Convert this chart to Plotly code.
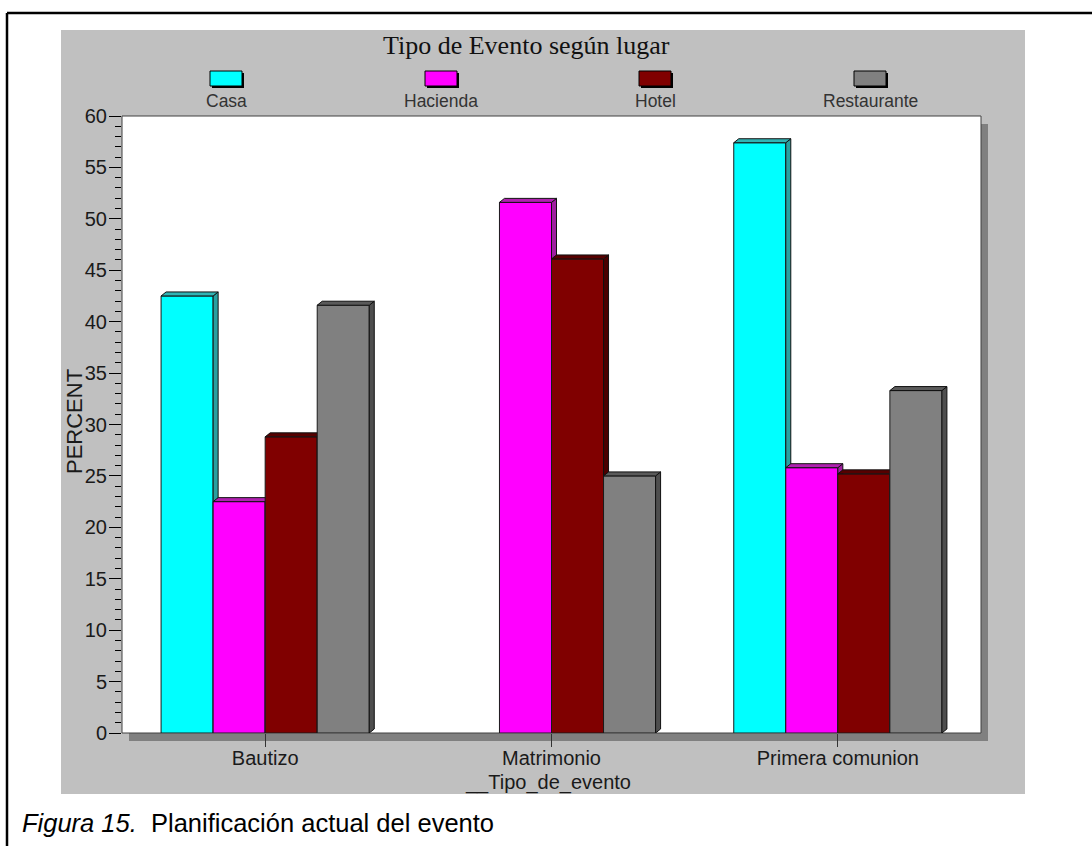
import plotly.graph_objects as go

# ---------------- data ----------------
categories = ["Bautizo", "Matrimonio", "Primera comunion"]
series_names = ["Casa", "Hacienda", "Hotel", "Restaurante"]
casa = [42.5, 0.0, 57.4]
hacienda = [22.5, 51.6, 25.8]
hotel = [28.8, 46.1, 25.2]
restaurante = [41.6, 25.0, 33.3]
y_ticks = [0, 5, 10, 15, 20, 25, 30, 35, 40, 45, 50, 55, 60]

series_values = [casa, hacienda, hotel, restaurante]
front_colors = ["#00FFFF", "#FF00FF", "#800000", "#808080"]
top_colors = ["#30B4B4", "#B020B0", "#560000", "#5A5A5A"]
side_colors = ["#28A0A0", "#A01EA0", "#4A0000", "#4E4E4E"]

# ---------------- geometry helpers ----------------
FW, FH = 1092, 846
PL, PR, PT, PB = 122, 981, 116, 733  # plot area in pixels
PW, PH = PR - PL, PB - PT


def fx(p):
    return (p - PL) / PW


def fy(p):
    return (PB - p) / PH


bargap = 0.273
nser = len(series_names)
w = (1 - bargap) / nser
x_range = [-0.5, 2.5]
y_range = [0, 60]
dx = 5 / (PW / (x_range[1] - x_range[0]))   # 3D depth in data units (x)
dy = 4 / (PH / (y_range[1] - y_range[0]))   # 3D depth in data units (y)

fig = go.Figure()
xs = list(range(len(categories)))

for i, (name, vals) in enumerate(zip(series_names, series_values)):
    off = -0.5 + bargap / 2 + i * w
    fig.add_trace(go.Bar(
        x=xs, y=vals, name=name, width=w, offset=off,
        marker=dict(color=front_colors[i],
                    line=dict(color="#1a1a1a", width=[1 if v > 0 else 0 for v in vals])),
        zorder=3 * i, showlegend=False,
    ))
    tx, ty, sx, sy = [], [], [], []
    for j, v in enumerate(vals):
        if v <= 0:
            continue
        x0 = j + off
        x1 = x0 + w
        tx += [x0, x0 + dx, x1 + dx, x1, x0, None]
        ty += [v, v + dy, v + dy, v, v, None]
        sx += [x1, x1 + dx, x1 + dx, x1, x1, None]
        sy += [v, v + dy, dy, 0, v, None]
    fig.add_trace(go.Scatter(
        x=sx, y=sy, mode="lines", fill="toself", fillcolor=side_colors[i],
        line=dict(color="#111111", width=1), zorder=3 * i + 1,
        showlegend=False, hoverinfo="skip",
    ))
    fig.add_trace(go.Scatter(
        x=tx, y=ty, mode="lines", fill="toself", fillcolor=top_colors[i],
        line=dict(color="#111111", width=1), zorder=3 * i + 2,
        showlegend=False, hoverinfo="skip",
    ))

shapes = []
# outer frame
shapes.append(dict(type="line", xref="paper", yref="paper",
                   x0=fx(7), x1=fx(1100), y0=fy(13), y1=fy(13),
                   line=dict(color="black", width=2.5)))
shapes.append(dict(type="line", xref="paper", yref="paper",
                   x0=fx(7), x1=fx(7), y0=fy(13), y1=fy(860),
                   line=dict(color="black", width=2.5)))
# gray panel
shapes.append(dict(type="rect", xref="paper", yref="paper", layer="below",
                   x0=fx(61), x1=fx(1025), y0=fy(30), y1=fy(794),
                   fillcolor="#C0C0C0", line=dict(width=0)))
# plot shadow
shapes.append(dict(type="rect", xref="paper", yref="paper", layer="below",
                   x0=fx(PL + 7), x1=fx(PR + 7), y0=fy(PT + 8), y1=fy(PB + 8),
                   fillcolor="#808080", line=dict(width=0)))
# white plot area
shapes.append(dict(type="rect", xref="paper", yref="paper", layer="below",
                   x0=0, x1=1, y0=0, y1=1,
                   fillcolor="white", line=dict(color="#404040", width=1)))

annotations = []
# legend (box above label)
leg_centers = [226, 441, 655, 870]
for name, col, cx in zip(series_names, front_colors, leg_centers):
    shapes.append(dict(type="rect", xref="paper", yref="paper",
                       x0=fx(cx - 14), x1=fx(cx + 18), y0=fy(73), y1=fy(88),
                       fillcolor="black", line=dict(width=0)))
    shapes.append(dict(type="rect", xref="paper", yref="paper",
                       x0=fx(cx - 16), x1=fx(cx + 16), y0=fy(71), y1=fy(86),
                       fillcolor=col, line=dict(color="black", width=1)))
    annotations.append(dict(text=name, xref="paper", yref="paper",
                            x=fx(cx), y=fy(101), showarrow=False,
                            xanchor="center", yanchor="middle",
                            font=dict(family="Liberation Sans, Arial", size=17.5, color="#333333")))

# title
annotations.append(dict(text="Tipo de Evento según lugar", xref="paper", yref="paper",
                        x=fx(526), y=fy(45), showarrow=False,
                        xanchor="center", yanchor="middle",
                        font=dict(family="Liberation Serif, Times New Roman", size=26, color="#111111")))
# y axis title
annotations.append(dict(text="PERCENT", xref="paper", yref="paper",
                        x=fx(74), y=fy(422), showarrow=False, textangle=-90,
                        xanchor="center", yanchor="middle",
                        font=dict(family="Liberation Sans, Arial", size=22, color="#1a1a1a")))
# x axis title
annotations.append(dict(text="__Tipo_de_evento", xref="paper", yref="paper",
                        x=fx(548), y=fy(782), showarrow=False,
                        xanchor="center", yanchor="middle",
                        font=dict(family="Liberation Sans, Arial", size=20, color="#1a1a1a")))
# caption
annotations.append(dict(text="<i>Figura 15.</i>  Planificación actual del evento",
                        xref="paper", yref="paper",
                        x=fx(20), y=fy(823), showarrow=False,
                        xanchor="left", yanchor="middle",
                        font=dict(family="Liberation Sans, Arial", size=25.5, color="black")))

fig.update_layout(
    width=FW, height=FH,
    margin=dict(l=PL, r=FW - PR, t=PT, b=FH - PB, pad=0),
    paper_bgcolor="white", plot_bgcolor="rgba(0,0,0,0)",
    barmode="overlay",
    shapes=shapes, annotations=annotations,
    showlegend=False,
    xaxis=dict(range=x_range, tickmode="array", tickvals=xs, ticktext=categories,
               showgrid=False, zeroline=False, showline=True, linecolor="black", linewidth=1,
               ticks="outside", ticklen=13, tickcolor="#333333", tickwidth=1,
               ticklabelstandoff=-6,
               tickfont=dict(family="Liberation Sans, Arial", size=20, color="#1a1a1a"),
               fixedrange=True),
    yaxis=dict(range=y_range, tickmode="array", tickvals=y_ticks,
               showgrid=False, zeroline=False, showline=True, linecolor="black", linewidth=1,
               ticks="outside", ticklen=12, tickcolor="black", tickwidth=1,
               ticklabelstandoff=-2,
               minor=dict(dtick=1, ticks="outside", ticklen=6, tickcolor="black", showgrid=False),
               tickfont=dict(family="Liberation Sans, Arial", size=20, color="#1a1a1a"),
               fixedrange=True),
)

fig.write_html("out.html")
